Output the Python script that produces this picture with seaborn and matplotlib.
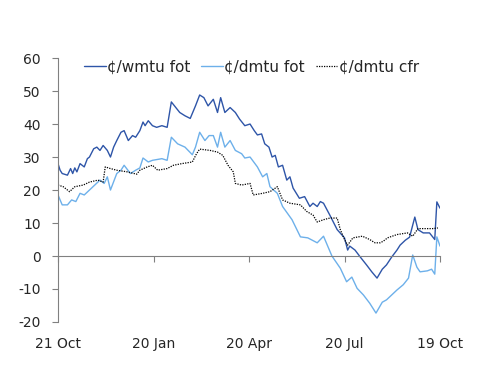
import matplotlib
matplotlib.use("Agg")
import matplotlib.pyplot as plt
import seaborn as sns
import pandas as pd

start_date = "2019-10-21"

# day offsets from start and values
wmtu_days = [0, 2, 4, 9, 12, 14, 16, 18, 21, 25, 28, 30, 34, 37, 40, 43, 47, 50,
             53, 56, 60, 63, 67, 71, 74, 78, 81, 83, 86, 90, 94, 99, 104, 108,
             111, 116, 121, 126, 131, 135, 139, 143, 148, 152, 155, 159, 164, 169,
             173, 178, 183, 187, 190, 194, 197, 201, 204, 207, 210, 214, 218, 221,
             224, 230, 235, 240, 243, 247, 250, 253, 259, 266, 273, 276, 278, 283,
             288, 294, 299, 304, 309, 313, 318, 323, 326, 331, 335, 340, 343, 348,
             354, 359, 361, 364]
wmtu_fot = [28, 26, 25, 24.5, 26.5, 25, 26.7, 25.5, 28, 27, 29.5, 30, 32.5, 33,
            32, 33.5, 32, 30, 33, 35, 37.5, 38, 35, 36.5, 36, 38, 40.6, 39.5, 41,
            39.5, 39, 39.5, 39, 46.7, 45.5, 43.5, 42.5, 41.7, 45.5, 48.8, 48, 45.5,
            47.5, 43.5, 48, 43.5, 45, 43.5, 41.5, 39.5, 40, 38, 36.7, 37, 34, 33,
            30, 30.5, 27, 27.5, 23, 24, 20.6, 17.5, 18, 15, 16, 15, 16.5, 16, 12.4,
            8, 5.5, 1.8, 3, 1.8, -0.3, -2.7, -4.8, -6.7, -4, -2.7, -0.3, 1.8, 3.3,
            4.8, 5.7, 11.8, 8, 7, 7, 5, 16.4, 14.5]

dmtu_days = [0, 4, 9, 13, 17, 21, 25, 30, 35, 40, 44, 47, 50, 56, 60, 63, 69, 74,
             78, 81, 86, 90, 99, 104, 108, 114, 121, 128, 131, 135, 140, 144, 148,
             152, 155, 159, 164, 169, 175, 178, 183, 190, 195, 199, 202, 209, 214,
             223, 231, 238, 247, 253, 261, 269, 275, 280, 285, 291, 297, 303, 309,
             313, 318, 323, 329, 334, 338, 342, 345, 352, 356, 359, 361, 364]
dmtu_fot = [18.5, 15.5, 15.5, 17, 16.5, 19, 18.5, 20, 21.5, 23, 22, 24, 20, 25,
            26, 27.5, 25, 26, 26.7, 29.7, 28.5, 29, 29.5, 29, 36, 34, 33, 30.7, 33,
            37.5, 35, 36.5, 36.5, 33, 37.5, 33, 35, 32, 31, 29.7, 30, 27, 24, 25,
            21, 19, 15, 11, 5.8, 5.5, 4, 6, 0, -3.7, -7.8, -6.4, -9.8, -11.8,
            -14.3, -17.3, -14, -13.3, -11.8, -10.3, -8.7, -6.7, 0.3, -3.4, -4.8,
            -4.5, -4, -5.5, 5.8, 3]

cfr_days = [0, 5, 11, 16, 24, 30, 38, 43, 45, 50, 56, 66, 75, 78, 85, 90, 95, 104,
            110, 118, 128, 132, 135, 145, 152, 157, 162, 167, 169, 175, 183, 186,
            195, 202, 209, 214, 221, 231, 237, 243, 247, 253, 259, 266, 269, 273,
            276, 281, 290, 297, 302, 307, 310, 314, 323, 333, 338, 343, 351, 357,
            362]
dmtu_cfr = [21.5, 21, 19.5, 21, 21.5, 22.4, 23, 22.4, 27, 26.5, 26, 25.5, 24.8,
            26, 27, 27.5, 26, 26.5, 27.5, 28, 28.5, 31, 32.4, 32, 31.5, 30.5, 27.5,
            25.5, 22, 21.5, 22, 18.5, 19, 19.5, 21, 17, 16, 15.5, 13.5, 12.4, 10.3,
            11, 11.5, 11.5, 8, 5, 3.3, 5.5, 6, 5, 4, 4, 4.5, 5.5, 6.5, 7, 6, 8.3,
            8.3, 8.3, 8.5]

tick_labels = ["21 Oct", "20 Jan", "20 Apr", "20 Jul", "19 Oct"]
tick_days = [0, 91, 182, 273, 364]

names = ["¢/wmtu fot", "¢/dmtu fot", "¢/dmtu cfr"]
colors = ["#2E55A8", "#6DB0EA", "#000000"]

t0 = pd.Timestamp(start_date)
def to_dates(days):
    return t0 + pd.to_timedelta(days, unit="D")

sns.set_style("white")
plt.rcParams["font.family"] = ["DejaVu Sans"]
plt.rcParams["axes.unicode_minus"] = False

fig = plt.figure(figsize=(5, 3.87), dpi=100)
ax = fig.add_axes([0.116, 0.168, 0.764, 0.682])

sns.lineplot(x=to_dates(wmtu_days), y=wmtu_fot, ax=ax, color=colors[0],
             linewidth=1.0, label=names[0])
sns.lineplot(x=to_dates(dmtu_days), y=dmtu_fot, ax=ax, color=colors[1],
             linewidth=1.0, label=names[1])
sns.lineplot(x=to_dates(cfr_days), y=dmtu_cfr, ax=ax, color=colors[2],
             linewidth=0.9, linestyle=(0, (1, 1)), label=names[2])

ax.set_xlim(to_dates([0])[0], to_dates([364])[0])
ax.set_ylim(-20, 60)
ax.set_yticks(range(-20, 61, 10))
ax.set_xticks(to_dates(tick_days))
ax.set_xticklabels(tick_labels)
ax.set_xlabel("")
ax.set_ylabel("")

for s in ["top", "right"]:
    ax.spines[s].set_visible(False)
ax.spines["left"].set_color("#808080")
ax.spines["bottom"].set_color("#808080")
ax.spines["bottom"].set_position(("data", 0))
ax.tick_params(axis="y", direction="out", length=4, color="#808080",
               labelsize=10, pad=8.5, left=True)
ax.tick_params(axis="x", direction="out", length=4, color="#808080",
               labelsize=10, pad=54, bottom=True)

leg = ax.legend(loc="center", bbox_to_anchor=(0.503, 0.827),
                bbox_transform=fig.transFigure, ncol=3, frameon=False,
                fontsize=11, handlelength=1.4, handletextpad=0.1,
                columnspacing=0.7)

fig.savefig("out.png", dpi=100)
